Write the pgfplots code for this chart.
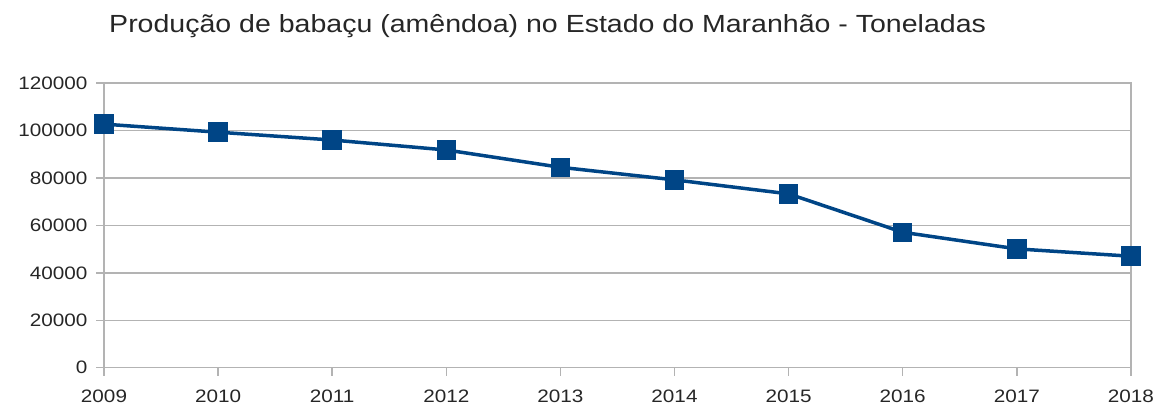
\documentclass[border=0pt]{standalone}
\usepackage{pgfplots}
\pgfplotsset{compat=1.18}
\usepackage{fontspec}
\setmainfont[FakeStretch=1.15]{Liberation Sans}
\definecolor{ser}{HTML}{004586}
\definecolor{grd}{HTML}{B3B3B3}
\begin{document}
\begin{tikzpicture}
\begin{axis}[
  scale only axis, width=1027pt, height=284.6pt,
  xmin=2009, xmax=2018, ymin=0, ymax=120000,
  xtick={2009,2010,2011,2012,2013,2014,2015,2016,2017,2018},
  xticklabels={2009,2010,2011,2012,2013,2014,2015,2016,2017,2018},
  ytick={0,20000,40000,60000,80000,100000,120000},
  yticklabels={0,20000,40000,60000,80000,100000,120000},
  ymajorgrids, grid style={grd, line width=1.5pt},
  axis line style={grd, line width=1.5pt},
  tick style={grd, line width=1.5pt}, tick align=outside, major tick length=8pt,
  xtick pos=bottom, ytick pos=left,
  scaled y ticks=false, scaled x ticks=false,
  ticklabel style={font=\fontsize{18}{18}\selectfont, text=black!85},
  yticklabel style={xshift=-5pt},
  xticklabel style={yshift=-11pt},
  title={Produção de babaçu (amêndoa) no Estado do Maranhão - Toneladas},
  title style={at={(0.432,1)}, anchor=base, yshift=45pt, font=\fontsize{24.8}{24.8}\selectfont, text=black!85},
]
\addplot[ser, line width=3.5pt, mark=square*, mark size=8pt, mark options={solid}] coordinates {
(2009,102700) (2010,99300) (2011,96000) (2012,91800) (2013,84500)
(2014,79200) (2015,73300) (2016,57100) (2017,50100) (2018,47000)
};
\end{axis}
\pgfresetboundingbox
\useasboundingbox (-104pt,-38.7pt) rectangle (1063pt,367.7pt);
\end{tikzpicture}
\end{document}
